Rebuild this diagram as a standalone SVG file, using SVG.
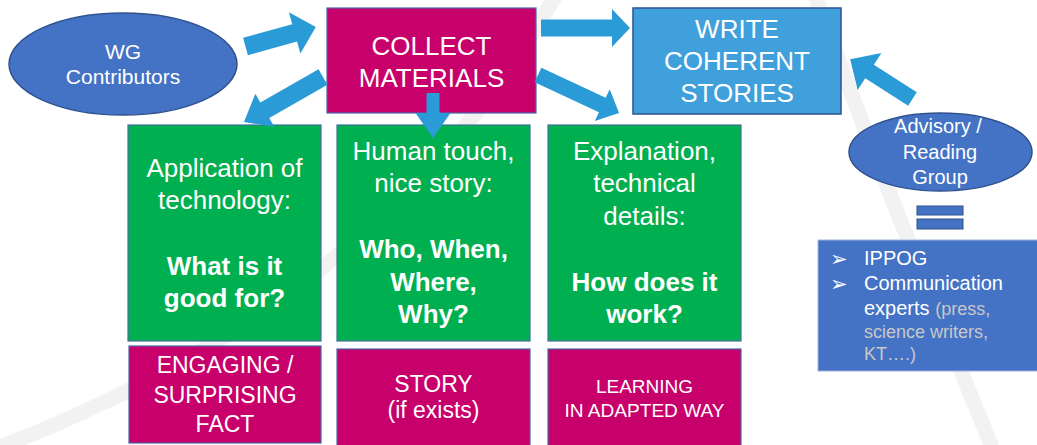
<svg xmlns="http://www.w3.org/2000/svg" width="1037" height="445" viewBox="0 0 1037 445">
<style>
  text { font-family: "Liberation Sans", Arial, sans-serif; fill: #ffffff; text-anchor: middle; }
  .bg { fill: none; stroke: #f2f2f2; stroke-width: 15; }
  .arrow { fill: #2b9bd8; }
  .ell { fill: #4472c4; stroke: #2f528f; stroke-width: 1.5; }
  .mag { fill: #c8006b; stroke: #4a67a8; stroke-width: 1.2; }
  .grn { fill: #00b050; stroke: #41719c; stroke-width: 1.2; }
  .wr { fill: #40a0dc; stroke: #2f528f; stroke-width: 1.5; }
  .t26 { font-size: 26px; }
  .b26 { font-size: 26px; font-weight: bold; }
  .t20 { font-size: 20px; }
  .t21 { font-size: 21px; }
  .t23 { font-size: 23px; }
  .t19 { font-size: 19px; }
  .lst { text-anchor: start; font-size: 20px; }
  .gry { fill: #c8c8c8; font-size: 18px; }
  .bul { font-family: "DejaVu Sans", sans-serif; font-size: 21px; text-anchor: start; }
</style>
<rect width="1037" height="445" fill="#ffffff"/>
<g id="background">
  <path class="bg" d="M 556 -5 C 470 140, 330 320, 0 447"/>
  <path class="bg" d="M 815 -5 Q 870 150 992 447"/>
</g>
<g id="wg">
  <ellipse class="ell" cx="123" cy="64" rx="114" ry="51"/>
  <text class="t21" x="123" y="59">WG</text>
  <text class="t21" x="123" y="84">Contributors</text>
</g>
<g id="collect">
  <rect class="mag" x="327" y="8" width="209" height="105"/>
  <text class="t26" x="431.5" y="55">COLLECT</text>
  <text class="t26" x="431.5" y="87">MATERIALS</text>
</g>
<g id="write">
  <rect class="wr" x="633" y="8" width="208" height="106"/>
  <text class="t26" x="737" y="38">WRITE</text>
  <text class="t26" x="737" y="70">COHERENT</text>
  <text class="t26" x="737" y="102">STORIES</text>
</g>
<g id="advisory">
  <ellipse class="ell" cx="940.5" cy="152" rx="91.5" ry="39"/>
  <text class="t20" x="938" y="133">Advisory /</text>
  <text class="t20" x="940" y="159">Reading</text>
  <text class="t20" x="940" y="184">Group</text>
</g>
<g id="equals">
  <rect x="917" y="206" width="46" height="9" fill="#4472c4" stroke="#2f528f" stroke-width="1"/>
  <rect x="917" y="219" width="46" height="10" fill="#4472c4" stroke="#2f528f" stroke-width="1"/>
</g>
<g id="experts">
  <rect x="818" y="240" width="222" height="131" fill="#4472c4" stroke="#9db4e0" stroke-width="1"/>
  <text class="bul" x="830" y="266">➢</text>
  <text class="bul" x="830" y="291">➢</text>
  <text class="lst" x="864" y="265">IPPOG</text>
  <text class="lst" x="864" y="290">Communication</text>
  <text class="lst" x="864" y="315">experts <tspan class="gry">(press,</tspan></text>
  <text class="lst gry" x="864" y="338">science writers,</text>
  <text class="lst gry" x="864" y="360">KT….)</text>
</g>
<g id="application">
  <rect class="grn" x="128" y="125" width="193" height="216"/>
  <text class="t26" x="224.5" y="177">Application of</text>
  <text class="t26" x="224.5" y="209">technology:</text>
  <text class="b26" x="224.5" y="275">What is it</text>
  <text class="b26" x="224.5" y="307">good for?</text>
</g>
<g id="human">
  <rect class="grn" x="337" y="125" width="193" height="216"/>
  <text class="t26" x="433.5" y="160">Human touch,</text>
  <text class="t26" x="433.5" y="192">nice story:</text>
  <text class="b26" x="433.5" y="258">Who, When,</text>
  <text class="b26" x="433.5" y="291">Where,</text>
  <text class="b26" x="433.5" y="323">Why?</text>
</g>
<g id="explanation">
  <rect class="grn" x="548" y="125" width="193" height="216"/>
  <text class="t26" x="644.5" y="160">Explanation,</text>
  <text class="t26" x="644.5" y="192">technical</text>
  <text class="t26" x="644.5" y="225">details:</text>
  <text class="b26" x="644.5" y="291">How does it</text>
  <text class="b26" x="644.5" y="323">work?</text>
</g>
<g id="engaging">
  <rect class="mag" x="129" y="346" width="192" height="97"/>
  <text class="t23" x="225" y="373">ENGAGING /</text>
  <text class="t23" x="225" y="403">SURPRISING</text>
  <text class="t23" x="225" y="432">FACT</text>
</g>
<g id="story">
  <rect class="mag" x="337" y="349" width="193" height="98"/>
  <text class="t23" x="433.5" y="392">STORY</text>
  <text class="t23" x="433.5" y="418">(if exists)</text>
</g>
<g id="learning">
  <rect class="mag" x="548" y="349" width="193" height="98"/>
  <text class="t19" x="644.5" y="393">LEARNING</text>
  <text class="t19" x="644.5" y="417" textLength="160" lengthAdjust="spacingAndGlyphs">IN ADAPTED WAY</text>
</g>
<g id="connectors">
  <path class="arrow" transform="translate(245.5,46.5) rotate(-15.5)" d="M0,-9 L51,-9 L51,-21.5 L73,0 L51,21.5 L51,9 L0,9 Z"/>
  <path class="arrow" transform="translate(541,28)" d="M0,-8.5 L71,-8.5 L71,-19 L89,0 L71,19 L71,8.5 L0,8.5 Z"/>
  <path class="arrow" transform="translate(538,75) rotate(25.1)" d="M0,-8 L71,-8 L71,-17.5 L89.5,0 L71,17.5 L71,8 L0,8 Z"/>
  <path class="arrow" transform="translate(433,93) rotate(90)" d="M0,-6.5 L20,-6.5 L20,-17.5 L45,0 L20,17.5 L20,6.5 L0,6.5 Z"/>
  <path class="arrow" transform="translate(323,77) rotate(150.3)" d="M0,-9 L67,-9 L67,-19 L91,0 L67,19 L67,9 L0,9 Z"/>
  <path class="arrow" transform="translate(912.5,99) rotate(-147.4)" d="M0,-8 L51,-8 L51,-22 L74,0 L51,22 L51,8 L0,8 Z"/>
</g>
</svg>
